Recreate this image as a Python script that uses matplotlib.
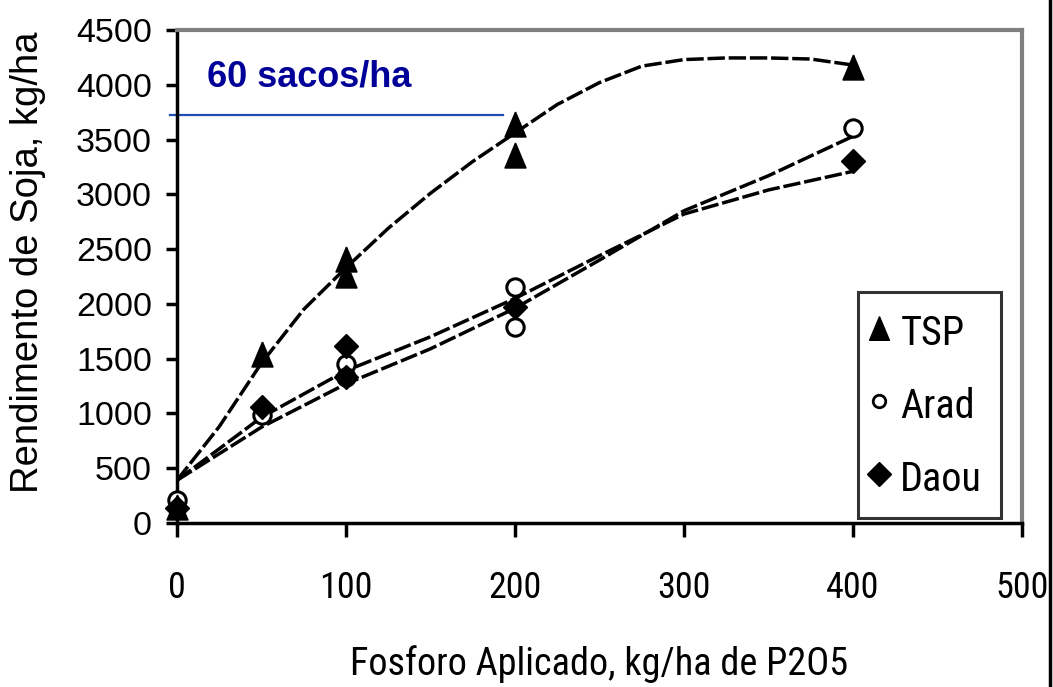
import matplotlib
matplotlib.use("Agg")
import matplotlib.pyplot as plt
from matplotlib.lines import Line2D

# ---- data ----
tsp_x = [0, 50, 100, 100, 200, 200, 400]
tsp_y = [150, 1540, 2410, 2260, 3640, 3360, 4160]
arad_x = [0, 50, 100, 100, 200, 200, 400]
arad_y = [210, 990, 1450, 1330, 2150, 1790, 3610]
daou_x = [0, 50, 100, 100, 200, 400]
daou_y = [135, 1055, 1620, 1330, 1970, 3300]

tsp_curve_x = [0, 25, 50, 75, 100, 125, 150, 175, 200, 225, 250, 275, 300, 325, 350, 375, 400]
tsp_curve_y = [390, 880, 1460, 1950, 2330, 2690, 3010, 3300, 3560, 3820, 4020, 4170, 4230, 4245, 4245, 4235, 4180]
arad_curve_x = [0, 50, 100, 150, 200, 250, 300, 350, 400]
arad_curve_y = [390, 875, 1270, 1590, 1960, 2400, 2850, 3170, 3530]
daou_curve_x = [0, 50, 100, 150, 200, 250, 300, 350, 400]
daou_curve_y = [390, 965, 1390, 1700, 2050, 2440, 2820, 3040, 3210]

ref_x = [-4, 193]
ref_y = [3720, 3720]
ref_label = "60 sacos/ha"

series_labels = ["TSP", "Arad", "Daou"]
x_ticks = [0, 100, 200, 300, 400, 500]
y_ticks = [0, 500, 1000, 1500, 2000, 2500, 3000, 3500, 4000, 4500]

NARROW = "Roboto Condensed"
W, H = 1053, 687
fig = plt.figure(figsize=(W / 100, H / 100), dpi=100)
ax = fig.add_axes([177 / W, 1 - 523 / H, (1022 - 177) / W, (523 - 30) / H])

ax.set_xlim(0, 500)
ax.set_ylim(0, 4500)

tri = [(0, 1), (-0.84, -1), (0.84, -1), (0, 1)]

dash = (0, (5, 1.1))
ax.plot(tsp_curve_x, tsp_curve_y, color="black", lw=2.5, linestyle=dash, zorder=2)
ax.plot(arad_curve_x, arad_curve_y, color="black", lw=2.5, linestyle=dash, zorder=2)
ax.plot(daou_curve_x, daou_curve_y, color="black", lw=2.5, linestyle=dash, zorder=2)

ax.plot(ref_x, ref_y, color="#1f4fb4", lw=1.6, zorder=2, clip_on=False)
ax.text(17.5, 4075, ref_label, color="#000099", fontsize=26, fontweight="bold",
        family="Liberation Sans", va="center", ha="left")

ax.plot(tsp_x, tsp_y, linestyle="none", marker=tri, ms=18, color="black", zorder=4, clip_on=False)
ax.plot(arad_x, arad_y, linestyle="none", marker="o", ms=12.5, mfc="white", mec="black",
        mew=2.2, zorder=3, clip_on=False)
ax.plot(daou_x, daou_y, linestyle="none", marker="D", ms=12, color="black", zorder=4, clip_on=False)

for s in ("left", "bottom"):
    ax.spines[s].set_linewidth(2.5)
    ax.spines[s].set_color("black")
for s in ("top", "right"):
    ax.spines[s].set_linewidth(3)
    ax.spines[s].set_color("#808080")

ax.set_xticks(x_ticks)
ax.set_yticks(y_ticks)
ax.tick_params(axis="both", direction="out", width=2.5, color="black")
ax.tick_params(axis="x", length=10, pad=24)
ax.tick_params(axis="y", length=8, pad=10)
for lab in ax.get_xticklabels():
    lab.set_family(NARROW)
    lab.set_fontsize(26)
for lab in ax.get_yticklabels():
    lab.set_family("Liberation Sans")
    lab.set_fontsize(24.5)

ax.set_xlabel("Fosforo Aplicado, kg/ha de P2O5", family=NARROW, fontsize=27.5, labelpad=28)
ax.set_ylabel("Rendimento de Soja, kg/ha", family="Liberation Sans", fontsize=27.5,
              va="center")
ax.yaxis.set_label_coords(-0.176, 0.529)

handles = [
    Line2D([], [], linestyle="none", marker=tri, ms=17, color="black"),
    Line2D([], [], linestyle="none", marker="o", ms=9, mfc="white", mec="black", mew=2),
    Line2D([], [], linestyle="none", marker="D", ms=12, color="black"),
]
leg = ax.legend(handles, series_labels, loc="upper left",
                bbox_to_anchor=(858 / W, 1 - 292 / H), bbox_transform=fig.transFigure,
                prop={"family": NARROW, "size": 29},
                frameon=True, fancybox=False, shadow=False, borderpad=0.46,
                labelspacing=0.74, handlelength=0.14, handleheight=1.26, handletextpad=0.45,
                borderaxespad=0)
leg.get_frame().set_edgecolor("black")
leg.get_frame().set_linewidth(2.2)

fig.add_artist(Line2D([1050 / W, 1050 / W], [0, 1], transform=fig.transFigure,
                      color="black", lw=2.5))

fig.savefig("out.png", dpi=100)
